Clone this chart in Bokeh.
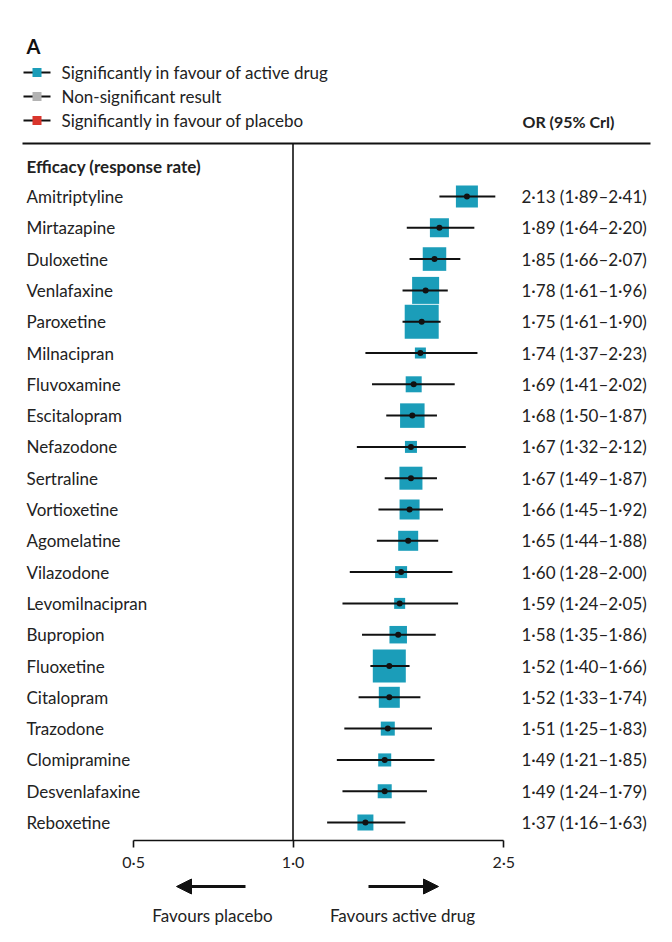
import math
from bokeh.plotting import figure
from bokeh.layouts import column
from bokeh.models import Range1d, FixedTicker, CustomJSTickFormatter, Label, Arrow, NormalHead
from bokeh.core.properties import value
from bokeh.embed import file_html
from bokeh.resources import INLINE

# ---------------- data ----------------
drugs = ["Amitriptyline", "Mirtazapine", "Duloxetine", "Venlafaxine", "Paroxetine",
         "Milnacipran", "Fluvoxamine", "Escitalopram", "Nefazodone", "Sertraline",
         "Vortioxetine", "Agomelatine", "Vilazodone", "Levomilnacipran", "Bupropion",
         "Fluoxetine", "Citalopram", "Trazodone", "Clomipramine", "Desvenlafaxine",
         "Reboxetine"]
odds_ratio = [2.13, 1.89, 1.85, 1.78, 1.75, 1.74, 1.69, 1.68, 1.67, 1.67, 1.66,
              1.65, 1.60, 1.59, 1.58, 1.52, 1.52, 1.51, 1.49, 1.49, 1.37]
ci_low = [1.89, 1.64, 1.66, 1.61, 1.61, 1.37, 1.41, 1.50, 1.32, 1.49, 1.45,
          1.44, 1.28, 1.24, 1.35, 1.40, 1.33, 1.25, 1.21, 1.24, 1.16]
ci_high = [2.41, 2.20, 2.07, 1.96, 1.90, 2.23, 2.02, 1.87, 2.12, 1.87, 1.92,
           1.88, 2.00, 2.05, 1.86, 1.66, 1.74, 1.83, 1.85, 1.79, 1.63]
# relative weight of each estimate (drawn as box size)
weight = [22, 19, 23.5, 27, 34, 11, 16, 24.5, 12, 23, 20,
          20, 12, 11, 17.5, 33, 21, 14, 13, 14, 16]
tick_values = [0.5, 1.0, 2.5]

# ---------------- layout helpers ----------------
FONT = "Lato"
FS = "17px"
TXT = "#222222"
TEAL = "#1b9db9"
GREY = "#b3b3b3"
RED = "#d9352c"
K = 230.0          # px per ln unit
X_ONE = 292.5      # page x of OR = 1
ROW0 = 196.0       # page y of first row
STEP = 31.3        # row spacing (px)
OFF = 0            # page offset of the figure
W = 656
H1 = 874
BOTTOM = 34
H2 = 930 - H1


def vx(px):
    """page x -> data value on the log axis"""
    return math.exp((px - X_ONE) / K)


def ry(py):
    """page y -> row coordinate"""
    return (py - ROW0) / STEP


frame_bottom_page = OFF + H1 - BOTTOM

p = figure(width=W, height=H1, x_axis_type="log", y_axis_type=None,
           x_range=Range1d(vx(OFF), vx(OFF + W)),
           y_range=Range1d(ry(frame_bottom_page), ry(OFF)),
           output_backend="svg", toolbar_location=None,
           min_border_left=0, min_border_right=0, min_border_top=0,
           min_border_bottom=BOTTOM)
p.outline_line_color = None
p.grid.visible = False
p.background_fill_color = "white"
p.border_fill_color = "white"

ax = p.xaxis[0]
ax.ticker = FixedTicker(ticks=tick_values)
ax.bounds = (tick_values[0], tick_values[-1])
ax.formatter = CustomJSTickFormatter(code="return tick.toFixed(1).replace('.', '\u00b7');")
ax.minor_tick_line_color = None
ax.major_tick_in = 0
ax.major_tick_out = 7
ax.axis_line_width = 1.6
ax.major_tick_line_width = 1.6
ax.axis_line_color = "#111111"
ax.major_tick_line_color = "#111111"
ax.major_label_text_font = FONT
ax.major_label_text_font_size = "16px"
ax.major_label_text_color = TXT
ax.major_label_standoff = 4

rows = list(range(len(drugs)))

# header elements
p.segment(x0=[vx(22)], x1=[vx(650)], y0=[ry(143)], y1=[ry(143)],
          line_color="#111111", line_width=2)
p.segment(x0=[1.0], x1=[1.0], y0=[ry(143)], y1=[ry(frame_bottom_page)],
          line_color="#111111", line_width=1.6)

p.add_layout(Label(x=vx(26), y=ry(45), text="A", text_font=FONT, text_font_style="bold",
                   text_font_size="20px", text_baseline="middle", text_color="#111111"))
legend_items = [("Significantly in favour of active drug", TEAL, 72),
                ("Non-significant result", GREY, 96),
                ("Significantly in favour of placebo", RED, 120)]
for txt, col, py in legend_items:
    p.segment(x0=[vx(23)], x1=[vx(50)], y0=[ry(py)], y1=[ry(py)],
              line_color="#111111", line_width=2)
    p.scatter(x=[vx(36.5)], y=[ry(py)], marker="square", size=9,
              fill_color=col, line_color=None)
    p.add_layout(Label(x=vx(61), y=ry(py), text=txt, text_font=FONT,
                       text_font_size=FS, text_baseline="middle", text_color=TXT))

p.add_layout(Label(x=vx(522), y=ry(121), text="OR (95% Crl)", text_font=FONT,
                   text_font_style="bold", text_font_size="16px",
                   text_baseline="middle", text_color=TXT))
p.add_layout(Label(x=vx(26), y=ry(166), text="Efficacy (response rate)", text_font=FONT,
                   text_font_style="bold", text_font_size=FS,
                   text_baseline="middle", text_color=TXT))

# drug names
p.text(x=[vx(26)] * len(drugs), y=rows, text=drugs, text_font=value(FONT),
       text_font_size=FS, text_baseline="middle", text_color=TXT)

# OR text
or_text = [f"{o:.2f} ({l:.2f}\u2013{h:.2f})".replace(".", "\u00b7")
           for o, l, h in zip(odds_ratio, ci_low, ci_high)]
p.text(x=[vx(521)] * len(drugs), y=rows, text=or_text, text_font=value(FONT),
       text_font_size=FS, text_baseline="middle", text_color=TXT)

# boxes, whiskers, points
p.scatter(x=odds_ratio, y=rows, marker="square", size=weight,
          fill_color=TEAL, line_color=None)
p.segment(x0=ci_low, x1=ci_high, y0=rows, y1=rows, line_color="#111111", line_width=2)
p.scatter(x=odds_ratio, y=rows, marker="circle", size=6,
          fill_color="#111111", line_color=None)

# ---------------- lower panel: arrows and captions ----------------
q = figure(width=W, height=H2, x_axis_type="log", y_axis_type=None,
           x_range=p.x_range, y_range=Range1d(H2, 0),
           output_backend="svg", toolbar_location=None,
           min_border_left=0, min_border_right=0, min_border_top=0, min_border_bottom=0)
q.xaxis.visible = False
q.outline_line_color = None
q.grid.visible = False

y_arrow = 886 - (OFF + H1)
y_cap = 915 - (OFF + H1)
q.add_layout(Arrow(x_start=vx(245), y_start=y_arrow, x_end=vx(176), y_end=y_arrow,
                   line_width=3, line_color="#111111",
                   end=NormalHead(size=15, fill_color="#111111", line_color="#111111")))
q.add_layout(Arrow(x_start=vx(368), y_start=y_arrow, x_end=vx(438), y_end=y_arrow,
                   line_width=3, line_color="#111111",
                   end=NormalHead(size=15, fill_color="#111111", line_color="#111111")))
q.add_layout(Label(x=vx(212), y=y_cap, text="Favours placebo", text_font=FONT,
                   text_font_size=FS, text_align="center", text_baseline="middle",
                   text_color=TXT))
q.add_layout(Label(x=vx(402), y=y_cap, text="Favours active drug", text_font=FONT,
                   text_font_size=FS, text_align="center", text_baseline="middle",
                   text_color=TXT))

layout = column(p, q, spacing=0)
open("out.html", "w").write(file_html(layout, INLINE))
